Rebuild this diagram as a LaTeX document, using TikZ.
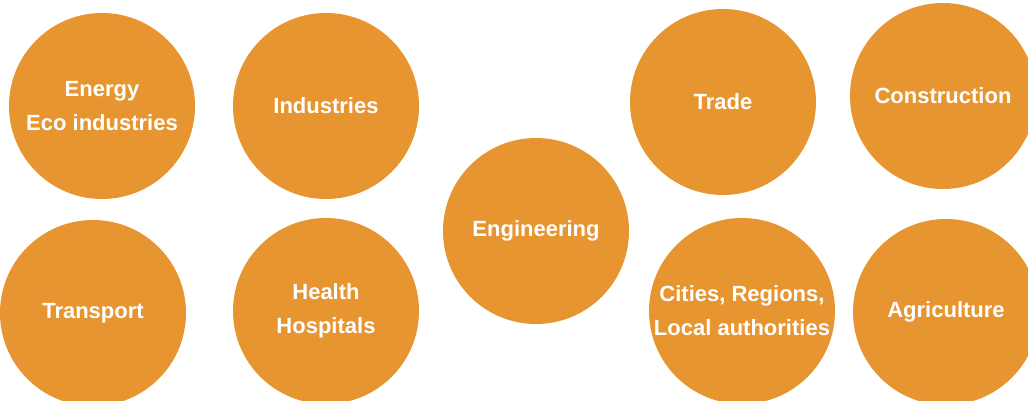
\documentclass[tikz,border=0pt]{standalone}
\usepackage{fontspec}
\setmainfont{Liberation Sans}
\definecolor{sectororange}{RGB}{231,149,48}
\tikzset{sector/.style={circle, fill=sectororange, minimum size=186pt, inner sep=0pt, text=white, align=center, font=\bfseries\fontsize{22}{34}\selectfont}}

\begin{document}
\begin{tikzpicture}[x=1pt,y=1pt]
   \useasboundingbox (0,0) rectangle (1028,400);
   % left block
   \node[sector] (energy)    at (102,294) {Energy\\Eco industries};
   \node[sector] (industry)  at (326,294) {Industries};
   \node[sector] (transport) at ( 93, 87) {Transport};
   \node[sector] (health)    at (326, 89) {Health\\Hospitals};
   % middle
   \node[sector] (engineer)  at (536,169) {Engineering};
   % right block
   \node[sector] (trade)     at (723,298) {Trade};
   \node[sector] (build)     at (943,304) {Construction};
   \node[sector] (cities)    at (742, 89) {Cities, Regions,\\Local authorities};
   \node[sector] (farming)   at (946, 88) {Agriculture};
\end{tikzpicture}
\end{document}
